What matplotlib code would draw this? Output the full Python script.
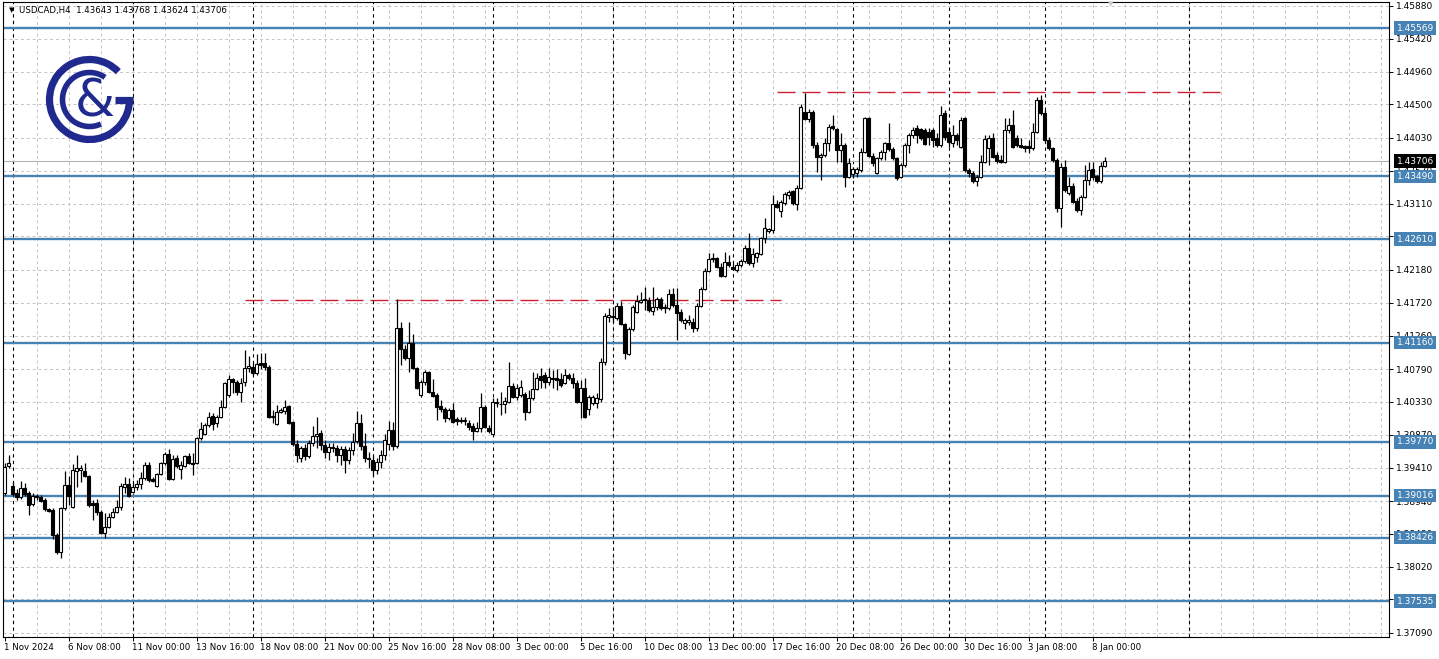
import matplotlib
matplotlib.use('Agg')
import matplotlib.pyplot as plt
import matplotlib.transforms as mtransforms
from matplotlib.patches import Arc
import numpy as np

title = 'USDCAD,H4  1.43643 1.43768 1.43624 1.43706'

# H4 candles, 1 Nov 2024 16:00 .. 8 Jan 2025 12:00
opens = [
    1.3905, 1.3943, 1.3915, 1.3905, 1.3900, 1.3912, 1.3905, 1.3890, 1.3900, 1.3900,
    1.3895, 1.3883, 1.3881, 1.3846, 1.3822, 1.3884, 1.3916, 1.3886, 1.3936, 1.3938,
    1.3936, 1.3929, 1.3891, 1.3891, 1.3879, 1.3849, 1.3858, 1.3872, 1.3879, 1.3886,
    1.3914, 1.3918, 1.3907, 1.3914, 1.3918, 1.3926, 1.3945, 1.3925, 1.3915, 1.3932,
    1.3947, 1.3960, 1.3925, 1.3954, 1.3939, 1.3943, 1.3957, 1.3947, 1.3947, 1.3982,
    1.3988, 1.4000, 1.4013, 1.4003, 1.4012, 1.4026, 1.4043, 1.4065, 1.4061, 1.4047,
    1.4061, 1.4080, 1.4082, 1.4074, 1.4088, 1.4088, 1.4082, 1.4012, 1.4002, 1.4019,
    1.4020, 1.4027, 1.4005, 1.3974, 1.3954, 1.3968, 1.3957, 1.3975, 1.3985, 1.3989,
    1.3973, 1.3963, 1.3970, 1.3968, 1.3958, 1.3967, 1.3952, 1.3965, 1.3978, 1.4003,
    1.3971, 1.3954, 1.3952, 1.3938, 1.3949, 1.3958, 1.3974, 1.3993, 1.3971, 1.4137,
    1.4107, 1.4095, 1.4116, 1.4080, 1.4043, 1.4061, 1.4075, 1.4047, 1.4043, 1.4027,
    1.4023, 1.4010, 1.4022, 1.4009, 1.4008, 1.4008, 1.4003, 1.3999, 1.3992, 1.3996,
    1.4026, 1.3996, 1.3988, 1.4033, 1.4030, 1.4030, 1.4033, 1.4055, 1.4040, 1.4043,
    1.4044, 1.4019, 1.4038, 1.4051, 1.4069, 1.4071, 1.4061, 1.4066, 1.4066, 1.4065,
    1.4059, 1.4071, 1.4066, 1.4059, 1.4033, 1.4052, 1.4023, 1.4031, 1.4031, 1.4037,
    1.4089, 1.4152, 1.4152, 1.4151, 1.4167, 1.4142, 1.4100, 1.4135, 1.4159, 1.4173,
    1.4176, 1.4176, 1.4160, 1.4166, 1.4177, 1.4166, 1.4165, 1.4184, 1.4169, 1.4159,
    1.4144, 1.4145, 1.4145, 1.4137, 1.4167, 1.4191, 1.4217, 1.4233, 1.4235, 1.4222,
    1.4210, 1.4229, 1.4222, 1.4218, 1.4225, 1.4231, 1.4249, 1.4228, 1.4236, 1.4240,
    1.4263, 1.4273, 1.4274, 1.4310, 1.4301, 1.4312, 1.4323, 1.4328, 1.4310, 1.4333,
    1.4439, 1.4430, 1.4439, 1.4393, 1.4376, 1.4379, 1.4396, 1.4420, 1.4416, 1.4386,
    1.4393, 1.4348, 1.4352, 1.4354, 1.4358, 1.4383, 1.4431, 1.4378, 1.4354, 1.4375,
    1.4383, 1.4396, 1.4387, 1.4375, 1.4348, 1.4365, 1.4393, 1.4407, 1.4417, 1.4416,
    1.4414, 1.4411, 1.4414, 1.4403, 1.4393, 1.4438, 1.4411, 1.4396, 1.4407, 1.4390,
    1.4431, 1.4358, 1.4354, 1.4342, 1.4348, 1.4369, 1.4389, 1.4403, 1.4379, 1.4372,
    1.4369, 1.4414, 1.4421, 1.4403, 1.4393, 1.4392, 1.4392, 1.4389, 1.4411, 1.4456,
    1.4438, 1.4400, 1.4389, 1.4372, 1.4305, 1.4362, 1.4326, 1.4336, 1.4315, 1.4302,
    1.4320, 1.4344, 1.4359, 1.4350, 1.4342, 1.43643,
]
highs = [
    1.3947, 1.3958, 1.3921, 1.3911, 1.3922, 1.3919, 1.3908, 1.3905, 1.3904, 1.3902,
    1.3898, 1.3884, 1.3884, 1.3849, 1.3886, 1.3936, 1.3929, 1.3946, 1.3958, 1.3945,
    1.3947, 1.3930, 1.3895, 1.3897, 1.3881, 1.3877, 1.3877, 1.3884, 1.3895, 1.3919,
    1.3928, 1.3926, 1.3919, 1.3923, 1.3935, 1.3949, 1.3949, 1.3928, 1.3933, 1.3949,
    1.3963, 1.3967, 1.3958, 1.3958, 1.3950, 1.3958, 1.3961, 1.3961, 1.3984, 1.4005,
    1.4003, 1.4019, 1.4017, 1.4015, 1.4036, 1.4061, 1.4071, 1.4066, 1.4064, 1.4066,
    1.4106, 1.4097, 1.4088, 1.4100, 1.4102, 1.4102, 1.4085, 1.4022, 1.4029, 1.4024,
    1.4036, 1.4029, 1.4006, 1.3980, 1.3971, 1.3974, 1.3980, 1.3999, 1.4012, 1.3994,
    1.3980, 1.3975, 1.3975, 1.3973, 1.3971, 1.3971, 1.3970, 1.3989, 1.4020, 1.4016,
    1.3989, 1.3963, 1.3957, 1.3954, 1.3965, 1.3988, 1.4006, 1.4005, 1.4177, 1.4145,
    1.4113, 1.4145, 1.4128, 1.4082, 1.4064, 1.4078, 1.4076, 1.4065, 1.4045, 1.4036,
    1.4026, 1.4024, 1.4031, 1.4012, 1.4012, 1.4012, 1.4008, 1.4003, 1.4005, 1.4045,
    1.4029, 1.4000, 1.4038, 1.4038, 1.4047, 1.4040, 1.4089, 1.4059, 1.4058, 1.4064,
    1.4047, 1.4050, 1.4075, 1.4074, 1.4080, 1.4075, 1.4080, 1.4078, 1.4079, 1.4074,
    1.4079, 1.4074, 1.4074, 1.4064, 1.4064, 1.4066, 1.4043, 1.4043, 1.4045, 1.4095,
    1.4158, 1.4165, 1.4166, 1.4172, 1.4174, 1.4143, 1.4138, 1.4169, 1.4183, 1.4187,
    1.4194, 1.4180, 1.4194, 1.4180, 1.4180, 1.4170, 1.4191, 1.4193, 1.4193, 1.4163,
    1.4151, 1.4155, 1.4151, 1.4172, 1.4194, 1.4221, 1.4242, 1.4242, 1.4236, 1.4228,
    1.4243, 1.4239, 1.4228, 1.4229, 1.4233, 1.4253, 1.4270, 1.4249, 1.4243, 1.4264,
    1.4291, 1.4277, 1.4323, 1.4316, 1.4316, 1.4327, 1.4330, 1.4330, 1.4337, 1.4451,
    1.4466, 1.4444, 1.4442, 1.4397, 1.4382, 1.4403, 1.4423, 1.4435, 1.4417, 1.4410,
    1.4396, 1.4375, 1.4362, 1.4362, 1.4389, 1.4432, 1.4432, 1.4382, 1.4376, 1.4386,
    1.4397, 1.4424, 1.4390, 1.4376, 1.4368, 1.4396, 1.4410, 1.4418, 1.4421, 1.4417,
    1.4417, 1.4417, 1.4417, 1.4410, 1.4448, 1.4442, 1.4417, 1.4421, 1.4410, 1.4432,
    1.4432, 1.4361, 1.4357, 1.4351, 1.4379, 1.4407, 1.4407, 1.4410, 1.4383, 1.4379,
    1.4431, 1.4431, 1.4442, 1.4407, 1.4403, 1.4393, 1.4400, 1.4424, 1.4460, 1.4463,
    1.4442, 1.4404, 1.4390, 1.4375, 1.4368, 1.4372, 1.4348, 1.4340, 1.4319, 1.4323,
    1.4365, 1.4369, 1.4369, 1.4351, 1.4369, 1.43768,
]
lows = [
    1.3902, 1.3940, 1.3901, 1.3895, 1.3897, 1.3901, 1.3874, 1.3887, 1.3895, 1.3893,
    1.3880, 1.3879, 1.3841, 1.3820, 1.3814, 1.3881, 1.3888, 1.3884, 1.3914, 1.3921,
    1.3928, 1.3886, 1.3867, 1.3874, 1.3848, 1.3842, 1.3856, 1.3870, 1.3877, 1.3881,
    1.3905, 1.3900, 1.3905, 1.3909, 1.3911, 1.3923, 1.3921, 1.3921, 1.3914, 1.3930,
    1.3945, 1.3923, 1.3923, 1.3940, 1.3925, 1.3942, 1.3946, 1.3930, 1.3946, 1.3980,
    1.3987, 1.3998, 1.3994, 1.3998, 1.4010, 1.4024, 1.4040, 1.4045, 1.4043, 1.4033,
    1.4055, 1.4075, 1.4071, 1.4071, 1.4079, 1.4078, 1.4010, 1.4003, 1.4000, 1.4017,
    1.4016, 1.4002, 1.3971, 1.3949, 1.3949, 1.3952, 1.3954, 1.3971, 1.3968, 1.3966,
    1.3954, 1.3952, 1.3963, 1.3949, 1.3945, 1.3933, 1.3946, 1.3958, 1.3975, 1.3965,
    1.3949, 1.3940, 1.3930, 1.3932, 1.3940, 1.3952, 1.3965, 1.3965, 1.3968, 1.4085,
    1.4092, 1.4075, 1.4079, 1.4051, 1.4040, 1.4057, 1.4046, 1.4040, 1.4008, 1.4019,
    1.4005, 1.4008, 1.4004, 1.4000, 1.4003, 1.4000, 1.3994, 1.3980, 1.3991, 1.3991,
    1.3996, 1.3989, 1.3987, 1.4026, 1.4015, 1.4017, 1.4031, 1.4038, 1.4036, 1.4040,
    1.4008, 1.4017, 1.4036, 1.4050, 1.4052, 1.4052, 1.4057, 1.4052, 1.4050, 1.4054,
    1.4058, 1.4064, 1.4052, 1.4031, 1.4010, 1.4010, 1.4015, 1.4029, 1.4024, 1.4033,
    1.4085, 1.4145, 1.4145, 1.4148, 1.4141, 1.4093, 1.4099, 1.4132, 1.4158, 1.4172,
    1.4162, 1.4159, 1.4155, 1.4162, 1.4162, 1.4158, 1.4162, 1.4166, 1.4120, 1.4145,
    1.4135, 1.4141, 1.4131, 1.4132, 1.4166, 1.4190, 1.4215, 1.4229, 1.4221, 1.4208,
    1.4208, 1.4222, 1.4218, 1.4215, 1.4222, 1.4228, 1.4225, 1.4222, 1.4229, 1.4239,
    1.4256, 1.4270, 1.4270, 1.4305, 1.4292, 1.4309, 1.4317, 1.4309, 1.4302, 1.4331,
    1.4428, 1.4425, 1.4389, 1.4355, 1.4344, 1.4376, 1.4385, 1.4414, 1.4369, 1.4369,
    1.4334, 1.4347, 1.4347, 1.4348, 1.4355, 1.4382, 1.4376, 1.4364, 1.4353, 1.4372,
    1.4372, 1.4385, 1.4372, 1.4344, 1.4347, 1.4362, 1.4382, 1.4403, 1.4396, 1.4400,
    1.4393, 1.4393, 1.4390, 1.4390, 1.4390, 1.4400, 1.4390, 1.4390, 1.4393, 1.4389,
    1.4355, 1.4348, 1.4340, 1.4336, 1.4347, 1.4368, 1.4365, 1.4375, 1.4368, 1.4368,
    1.4368, 1.4410, 1.4389, 1.4390, 1.4389, 1.4383, 1.4382, 1.4386, 1.4410, 1.4435,
    1.4397, 1.4386, 1.4369, 1.4299, 1.4278, 1.4327, 1.4323, 1.4312, 1.4299, 1.4295,
    1.4319, 1.4337, 1.4344, 1.4340, 1.4340, 1.43624,
]
closes = [
    1.3942, 1.3947, 1.3904, 1.3900, 1.3912, 1.3904, 1.3888, 1.3901, 1.3901, 1.3894,
    1.3883, 1.3880, 1.3846, 1.3822, 1.3884, 1.3916, 1.3901, 1.3938, 1.3940, 1.3941,
    1.3929, 1.3888, 1.3888, 1.3879, 1.3849, 1.3858, 1.3872, 1.3879, 1.3886, 1.3915,
    1.3918, 1.3901, 1.3914, 1.3918, 1.3926, 1.3945, 1.3923, 1.3922, 1.3932, 1.3947,
    1.3960, 1.3925, 1.3953, 1.3943, 1.3945, 1.3957, 1.3947, 1.3946, 1.3982, 1.3995,
    1.4000, 1.4012, 1.4002, 1.4012, 1.4026, 1.4059, 1.4065, 1.4061, 1.4047, 1.4059,
    1.4080, 1.4083, 1.4074, 1.4086, 1.4085, 1.4082, 1.4012, 1.4013, 1.4019, 1.4022,
    1.4026, 1.4003, 1.3974, 1.3958, 1.3968, 1.3957, 1.3975, 1.3985, 1.3988, 1.3973,
    1.3963, 1.3970, 1.3968, 1.3958, 1.3967, 1.3952, 1.3965, 1.3977, 1.4003, 1.3971,
    1.3954, 1.3953, 1.3938, 1.3949, 1.3958, 1.3980, 1.3993, 1.3971, 1.4137, 1.4107,
    1.4095, 1.4116, 1.4080, 1.4052, 1.4061, 1.4075, 1.4047, 1.4041, 1.4026, 1.4023,
    1.4010, 1.4022, 1.4005, 1.4006, 1.4006, 1.4006, 1.3998, 1.3992, 1.3996, 1.4026,
    1.3998, 1.3992, 1.4033, 1.4032, 1.4030, 1.4034, 1.4055, 1.4040, 1.4052, 1.4054,
    1.4019, 1.4038, 1.4051, 1.4066, 1.4064, 1.4061, 1.4068, 1.4065, 1.4064, 1.4057,
    1.4071, 1.4066, 1.4059, 1.4033, 1.4052, 1.4012, 1.4040, 1.4040, 1.4038, 1.4089,
    1.4153, 1.4155, 1.4153, 1.4167, 1.4142, 1.4102, 1.4135, 1.4166, 1.4174, 1.4176,
    1.4177, 1.4162, 1.4166, 1.4177, 1.4165, 1.4165, 1.4184, 1.4169, 1.4158, 1.4148,
    1.4148, 1.4148, 1.4137, 1.4167, 1.4191, 1.4217, 1.4233, 1.4235, 1.4222, 1.4210,
    1.4229, 1.4225, 1.4219, 1.4225, 1.4231, 1.4249, 1.4228, 1.4240, 1.4242, 1.4263,
    1.4277, 1.4275, 1.4310, 1.4306, 1.4313, 1.4324, 1.4327, 1.4312, 1.4333, 1.4446,
    1.4430, 1.4439, 1.4393, 1.4376, 1.4379, 1.4396, 1.4418, 1.4417, 1.4386, 1.4393,
    1.4348, 1.4368, 1.4359, 1.4360, 1.4383, 1.4431, 1.4378, 1.4368, 1.4375, 1.4383,
    1.4396, 1.4387, 1.4375, 1.4347, 1.4365, 1.4393, 1.4407, 1.4414, 1.4407, 1.4403,
    1.4395, 1.4404, 1.4400, 1.4393, 1.4435, 1.4404, 1.4397, 1.4407, 1.4400, 1.4428,
    1.4358, 1.4354, 1.4342, 1.4348, 1.4369, 1.4402, 1.4403, 1.4376, 1.4371, 1.4369,
    1.4414, 1.4421, 1.4390, 1.4393, 1.4390, 1.4389, 1.4389, 1.4411, 1.4456, 1.4438,
    1.4400, 1.4389, 1.4372, 1.4305, 1.4362, 1.4330, 1.4336, 1.4313, 1.4302, 1.4320,
    1.4344, 1.4358, 1.4348, 1.4342, 1.4364, 1.43706,
]

time_labels = ['1 Nov 2024', '6 Nov 08:00', '11 Nov 00:00', '13 Nov 16:00', '18 Nov 08:00',
               '21 Nov 00:00', '25 Nov 16:00', '28 Nov 08:00', '3 Dec 00:00', '5 Dec 16:00',
               '10 Dec 08:00', '13 Dec 00:00', '17 Dec 16:00', '20 Dec 08:00', '26 Dec 00:00',
               '30 Dec 16:00', '3 Jan 08:00', '8 Jan 00:00']
label_every = 16
grid_every = 8
week_starts = [2, 32, 62, 92, 122, 152, 182, 212, 236, 260, 296]

price_ticks = [1.45880, 1.45420, 1.44960, 1.44500, 1.44030, 1.43570, 1.43110, 1.42650,
               1.42180, 1.41720, 1.41260, 1.40790, 1.40330, 1.39870, 1.39410, 1.38940,
               1.38480, 1.38020, 1.37560, 1.37090]
levels = [1.45569, 1.43490, 1.42610, 1.41160, 1.39770, 1.39016, 1.38426, 1.37535]
last_price = 1.43706
# red dashed resistance: price, first bar, last bar
resist_lines = [(1.4176, 60, 194), (1.4467, 193, 305)]

W, H = 1439, 659
fig = plt.figure(figsize=(W / 100, H / 100), dpi=100)
fig.patch.set_facecolor('white')
ax = fig.add_axes([3 / W, 22 / H, 1386 / W, 635 / H])

o = np.array(opens); h = np.array(highs); l = np.array(lows); c = np.array(closes)
x = np.arange(len(o))
up = c >= o

ax.set_xlim(-0.375, 346.125)
ax.set_ylim(1.370338, 1.45936)

# grid
for p in price_ticks:
    ax.axhline(p, color='#c4c4c4', lw=0.7, ls=(0, (3, 3)), zorder=0)
for g in range(grid_every, 347, grid_every):
    ax.axvline(g, color='#c4c4c4', lw=0.7, ls=(0, (3, 3)), zorder=0)
for s in week_starts:
    ax.axvline(s, color='black', lw=0.8, ls=(0, (3, 3)), zorder=1)

# levels
for lv in levels:
    ax.axhline(lv, color='#4682b4', lw=1.7, zorder=2)
ax.axhline(last_price, color='#b4b4b4', lw=0.8, zorder=1)
for p, a, b in resist_lines:
    ax.hlines(p, a, b, colors='#cc1f2f', lw=1.0, linestyles=[(0, (13, 5))], zorder=2)

# candles
ax.vlines(x, l, h, color='black', lw=0.9, zorder=3)
bot = np.minimum(o, c)
hgt = np.abs(c - o)
ax.bar(x[up], hgt[up], bottom=bot[up], width=0.62, color='white',
       edgecolor='black', linewidth=0.8, zorder=4)
ax.bar(x[~up], hgt[~up], bottom=bot[~up], width=0.62, color='black',
       edgecolor='black', linewidth=0.8, zorder=4)

# axes
ax.yaxis.tick_right()
ax.set_yticks(price_ticks)
ax.set_yticklabels(['%.5f' % p for p in price_ticks])
ax.tick_params(axis='y', direction='out', length=3, width=0.7, pad=2, labelsize=6.5)
ax.set_xticks(range(0, len(time_labels) * label_every, label_every))
ax.set_xticklabels(time_labels)
ax.tick_params(axis='x', direction='out', length=3, width=0.7, pad=1.5, labelsize=6.2)
for t in ax.get_xticklabels():
    t.set_horizontalalignment('left')
for sp in ax.spines.values():
    sp.set_color('black'); sp.set_linewidth(0.8)

# right side price boxes
trans = mtransforms.blended_transform_factory(ax.transAxes, ax.transData)
for lv in levels:
    ax.text(1.0055, lv, '%.5f' % lv, transform=trans, fontsize=6.5, color='white',
            va='center', ha='left', clip_on=False, zorder=10,
            bbox=dict(boxstyle='square,pad=0.25', fc='#4682b4', ec='none'))
ax.text(1.0055, last_price, '%.5f' % last_price, transform=trans, fontsize=6.5,
        color='white', va='center', ha='left', clip_on=False, zorder=10,
        bbox=dict(boxstyle='square,pad=0.25', fc='black', ec='none'))

# header
fig.text(9 / W, 1 - 10 / H, '\u25BC', fontsize=5, va='center', ha='left')
fig.text(19 / W, 1 - 10 / H, title, fontsize=6.2, va='center', ha='left')
fig.text(1108 / W, 1 - 4 / H, '\u25BC', fontsize=5, color='#c8c8c8', va='center', ha='left')

# logo
lg = fig.add_axes([0, 0, 1, 1])
lg.set_xlim(0, W); lg.set_ylim(0, H)
lg.axis('off')
navy = '#202a8e'
cx, cy = 89.5, H - 99.5
lg.add_patch(Arc((cx, cy), 80, 80, theta1=44, theta2=360, lw=5.2, color=navy))
lg.add_patch(Arc((cx, cy), 54, 54, theta1=55, theta2=295, lw=4.0, color=navy))
lg.plot([cx + 25, cx + 43.5], [cy, cy], lw=5.2, color=navy, solid_capstyle='butt')
lg.text(cx + 5, cy - 3, '&', fontsize=37, color=navy, ha='center', va='center')

fig.savefig('out.png', dpi=100)
